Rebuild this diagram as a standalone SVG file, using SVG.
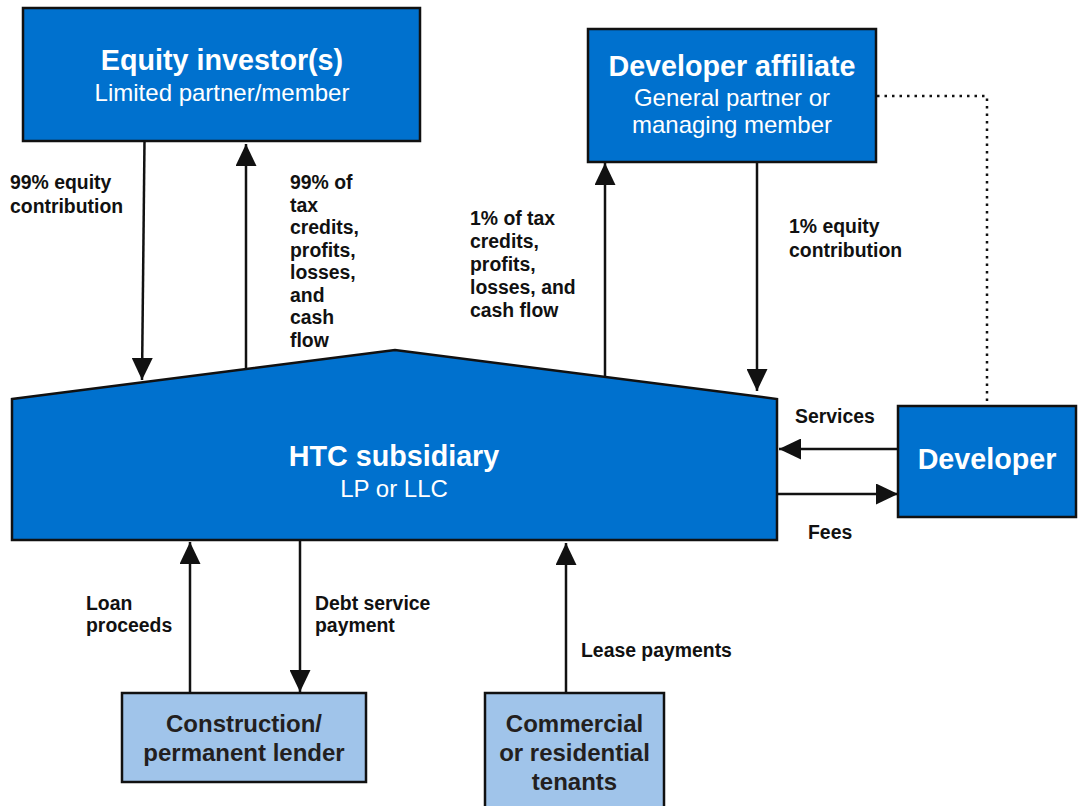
<svg xmlns="http://www.w3.org/2000/svg" width="1078" height="806" viewBox="0 0 1078 806">
<defs>
<style>
.dark{fill:#0071CE;stroke:#111;stroke-width:2.5}
.light{fill:#A0C4EA;stroke:#111;stroke-width:2.5}
text{font-family:"Liberation Sans",Arial,Helvetica,sans-serif}
.title{fill:#fff;font-weight:bold;font-size:28.7px;text-anchor:middle}
.sub{fill:#fff;font-size:24px;text-anchor:middle}
.ltitle{fill:#231F20;font-weight:bold;font-size:24px;text-anchor:middle}
.lbl{fill:#111;font-weight:bold;font-size:19.4px}
.conn{stroke:#111;stroke-width:2.5;fill:none}
.dot{stroke:#111;stroke-width:2.5;fill:none;stroke-dasharray:2.5 5}
</style>
<marker id="arr" markerUnits="userSpaceOnUse" markerWidth="22" markerHeight="21" refX="22" refY="10.5" orient="auto">
<path d="M0,0 L22,10.5 L0,21 z" fill="#111"/>
</marker>
</defs>
<rect width="1078" height="806" fill="#fff"/>

<g id="connectors">
<line class="conn" x1="144.5" y1="141" x2="142" y2="380" marker-end="url(#arr)"/>
<line class="conn" x1="246" y1="369" x2="246" y2="144" marker-end="url(#arr)"/>
<line class="conn" x1="605" y1="377" x2="605" y2="163" marker-end="url(#arr)"/>
<line class="conn" x1="757" y1="162" x2="757" y2="391" marker-end="url(#arr)"/>
<line class="conn" x1="898" y1="449" x2="779" y2="449" marker-end="url(#arr)"/>
<line class="conn" x1="777" y1="494" x2="898" y2="494" marker-end="url(#arr)"/>
<line class="conn" x1="190" y1="693" x2="190" y2="542" marker-end="url(#arr)"/>
<line class="conn" x1="300" y1="540" x2="300" y2="692" marker-end="url(#arr)"/>
<line class="conn" x1="566" y1="693" x2="566" y2="543" marker-end="url(#arr)"/>
<polyline class="dot" points="877,96 987,96 987,406"/>
</g>

<g id="labels">
<text class="lbl" x="10" y="189">99% equity</text>
<text class="lbl" x="10" y="213">contribution</text>
<text class="lbl" x="290" y="189">99% of</text>
<text class="lbl" x="290" y="211.6">tax</text>
<text class="lbl" x="290" y="234.1">credits,</text>
<text class="lbl" x="290" y="256.7">profits,</text>
<text class="lbl" x="290" y="279.3">losses,</text>
<text class="lbl" x="290" y="301.9">and</text>
<text class="lbl" x="290" y="324.4">cash</text>
<text class="lbl" x="290" y="347">flow</text>
<text class="lbl" x="470" y="225">1% of tax</text>
<text class="lbl" x="470" y="248">credits,</text>
<text class="lbl" x="470" y="271">profits,</text>
<text class="lbl" x="470" y="294">losses, and</text>
<text class="lbl" x="470" y="317">cash flow</text>
<text class="lbl" x="789" y="233">1% equity</text>
<text class="lbl" x="789" y="257">contribution</text>
<text class="lbl" x="795" y="423">Services</text>
<text class="lbl" x="808" y="539">Fees</text>
<text class="lbl" x="86" y="610">Loan</text>
<text class="lbl" x="86" y="632">proceeds</text>
<text class="lbl" x="315" y="610">Debt service</text>
<text class="lbl" x="315" y="632">payment</text>
<text class="lbl" x="581" y="657">Lease payments</text>
</g>

<g id="equity-investor">
<rect class="dark" x="23" y="8" width="397" height="133"/>
<text class="title" x="222" y="70">Equity investor(s)</text>
<text class="sub" x="222" y="101">Limited partner/member</text>
</g>

<g id="developer-affiliate">
<rect class="dark" x="588" y="29" width="288" height="133"/>
<text class="title" x="732" y="76">Developer affiliate</text>
<text class="sub" x="732" y="106">General partner or</text>
<text class="sub" x="732" y="133">managing member</text>
</g>

<g id="htc-subsidiary">
<polygon class="dark" points="12,399 395,350 777,399 777,540 12,540"/>
<text class="title" x="394" y="466">HTC subsidiary</text>
<text class="sub" x="394" y="497">LP or LLC</text>
</g>

<g id="developer">
<rect class="dark" x="898" y="406" width="178" height="111"/>
<text class="title" x="987" y="469">Developer</text>
</g>

<g id="lender">
<rect class="light" x="122" y="693" width="244" height="89"/>
<text class="ltitle" x="244" y="732">Construction/</text>
<text class="ltitle" x="244" y="761">permanent lender</text>
</g>

<g id="tenants">
<rect class="light" x="485" y="693" width="179" height="125"/>
<text class="ltitle" x="574.5" y="732">Commercial</text>
<text class="ltitle" x="574.5" y="761">or residential</text>
<text class="ltitle" x="574.5" y="790">tenants</text>
</g>
</svg>
